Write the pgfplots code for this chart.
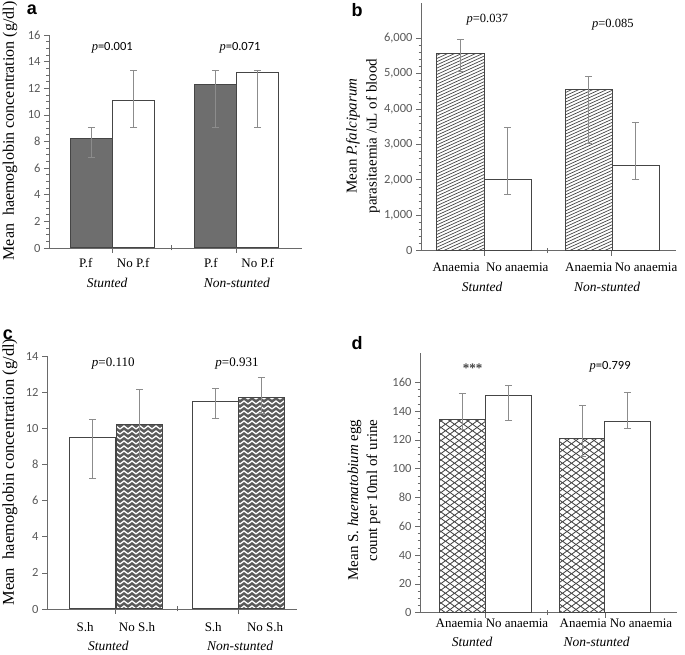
\documentclass[border=0pt]{standalone}
\usepackage{fontspec}
\setmainfont{Liberation Serif}
\newfontfamily\tickfont{Carlito}
\newfontfamily\panfont{Liberation Sans}
\usepackage{pgfplots}
\pgfplotsset{compat=1.18}
\usetikzlibrary{patterns}

\definecolor{barline}{HTML}{454545}
\definecolor{errgray}{HTML}{8C8C8C}
\definecolor{tickgray}{HTML}{595959}
\definecolor{axgray}{HTML}{6A6A6A}
\definecolor{darkfill}{HTML}{6E6E6E}
\definecolor{zzfill}{HTML}{5A5A5A}
\definecolor{hatchgray}{HTML}{474747}

\pgfdeclarepatternformonly{wavydiag}{\pgfqpoint{-1pt}{-1pt}}{\pgfqpoint{8pt}{4.5pt}}{\pgfqpoint{7pt}{3.2pt}}{%
  \pgfsetlinewidth{0.7pt}%
  \pgfpathmoveto{\pgfqpoint{0pt}{0pt}}%
  \pgfpathcurveto{\pgfqpoint{1.4pt}{1.2pt}}{\pgfqpoint{2.1pt}{0.4pt}}{\pgfqpoint{3.5pt}{1.6pt}}%
  \pgfpathcurveto{\pgfqpoint{4.9pt}{2.8pt}}{\pgfqpoint{5.6pt}{2.0pt}}{\pgfqpoint{7pt}{3.2pt}}%
  \pgfusepath{stroke}}
\pgfdeclarepatternformonly{zigzag}{\pgfqpoint{-1pt}{-1pt}}{\pgfqpoint{9pt}{6pt}}{\pgfqpoint{8pt}{5pt}}{%
  \pgfsetlinewidth{1.3pt}%
  \pgfpathmoveto{\pgfqpoint{0pt}{1pt}}%
  \pgfpathlineto{\pgfqpoint{4pt}{4pt}}%
  \pgfpathlineto{\pgfqpoint{8pt}{1pt}}%
  \pgfusepath{stroke}}
\pgfdeclarepatternformonly{diagcross}{\pgfqpoint{-1pt}{-1pt}}{\pgfqpoint{10pt}{7.5pt}}{\pgfqpoint{9pt}{6.5pt}}{%
  \pgfsetlinewidth{0.85pt}%
  \pgfpathmoveto{\pgfqpoint{0pt}{0pt}}\pgfpathlineto{\pgfqpoint{9pt}{6.5pt}}%
  \pgfpathmoveto{\pgfqpoint{0pt}{6.5pt}}\pgfpathlineto{\pgfqpoint{9pt}{0pt}}%
  \pgfusepath{stroke}}

\pgfplotsset{
  panel/.style={
    anchor=south west, scale only axis, clip=false,
    ybar, bar shift=0pt,
    xmin=0, xmax=4, ymin=0, enlargelimits=false,
    axis x line*=bottom, axis y line*=left,
    axis line style={axgray, line width=0.9pt, -},
    tick style={axgray, line width=0.7pt},
    tick align=outside, major tick length=5pt, minor tick length=2.5pt,
    xticklabels={}, extra x tick labels={},
    extra x tick style={tick align=center},
    /pgf/number format/assume math mode=true,
    yticklabel style={font=\tickfont\fontsize{12.5}{12.5}\selectfont, text=tickgray},
    error bars/y dir=both, error bars/y explicit,
    error bars/error bar style={errgray, line width=1pt},
    error bars/error mark options={rotate=90, errgray, mark size=3.5pt, line width=1pt},
  },
}
\tikzset{
  cat/.style={anchor=base, font=\fontsize{13}{13}\selectfont},
  grp/.style={anchor=base, font=\fontsize{13.5}{13.5}\selectfont\itshape},
}

\begin{document}
\begin{tikzpicture}
\useasboundingbox (0,0) rectangle (685pt,655pt);

% ---------------- panel a ----------------
\begin{axis}[panel, at={(49pt,407pt)}, width=253pt, height=213pt,
  ymax=16, ytick={0,2,...,16}, minor y tick num=3,
  bar width=0.67, xtick={1.0,2.96}, extra x ticks={1.94}]
\addplot[fill=darkfill, draw=barline, line width=1pt] coordinates {
  (0.67,8.2) += (0,0.85) -= (0,1.4)
  (2.63,12.3) += (0,1.0) -= (0,3.25)};
\addplot[fill=white, draw=barline, line width=1pt] coordinates {
  (1.34,11.05) += (0,2.25) -= (0,2.0)
  (3.30,13.2) += (0,0.12) -= (0,4.15)};
\node[cat] at (axis cs:0.58,0) [yshift=-19.5pt] {P.f};
\node[cat] at (axis cs:1.33,0) [yshift=-19.5pt] {No P.f};
\node[cat] at (axis cs:2.56,0) [yshift=-19.5pt] {P.f};
\node[cat] at (axis cs:3.30,0) [yshift=-19.5pt] {No P.f};
\node[grp] at (axis cs:0.92,0) [yshift=-39.5pt] {Stunted};
\node[grp] at (axis cs:2.97,0) [yshift=-39.5pt] {Non-stunted};
\node[font=\fontsize{12.5}{12.5}\selectfont] at (axis cs:1.0,15.03) {\textit{p}{\tickfont=0.001}};
\node[font=\fontsize{12.5}{12.5}\selectfont] at (axis cs:3.02,15.03) {\textit{p}{\tickfont=0.071}};
\end{axis}

% ---------------- panel b ----------------
\begin{axis}[panel, at={(421pt,404.3pt)}, width=255pt, height=248pt,
  ymax=7000, ytick={0,1000,...,6000}, minor y tick num=4,
  scaled y ticks=false, yticklabel style={/pgf/number format/1000 sep={,}},
  bar width=0.74, xtick={0.99,2.98}, extra x ticks={1.98}]
\addplot[pattern=wavydiag, pattern color=hatchgray, draw=barline, line width=1pt] coordinates {
  (0.62,5570) += (0,380) -= (0,510)
  (2.63,4560) += (0,370) -= (0,1530)};
\addplot[fill=white, draw=barline, line width=1pt] coordinates {
  (1.36,2020) += (0,1460) -= (0,420)
  (3.37,2410) += (0,1210) -= (0,410)};
\node[cat] at (axis cs:0.55,0) [yshift=-21pt] {Anaemia};
\node[cat] at (axis cs:1.51,0) [yshift=-21pt] {No anaemia};
\node[cat] at (axis cs:2.63,0) [yshift=-21pt] {Anaemia};
\node[cat] at (axis cs:3.53,0) [yshift=-21pt] {No anaemia};
\node[grp] at (axis cs:0.96,0) [yshift=-41pt] {Stunted};
\node[grp] at (axis cs:2.92,0) [yshift=-41pt] {Non-stunted};
\node[font=\fontsize{12.5}{12.5}\selectfont] at (axis cs:1.04,6510) {\textit{p}=0.037};
\node[font=\fontsize{12.5}{12.5}\selectfont] at (axis cs:3.01,6370) {\textit{p}=0.085};
\end{axis}

% ---------------- panel c ----------------
\begin{axis}[panel, at={(47pt,46pt)}, width=250pt, height=253pt,
  ymax=14, ytick={0,2,...,14},
  bar width=0.74, xtick={1.10,3.06}, extra x ticks={2.08}]
\addplot[fill=white, draw=barline, line width=1pt] coordinates {
  (0.73,9.48) += (0,1.02) -= (0,2.24)
  (2.70,11.47) += (0,0.73) -= (0,0.92)};
\addplot[fill=zzfill, postaction={pattern=zigzag, pattern color=white}, draw=barline, line width=1pt] coordinates {
  (1.48,10.22) += (0,1.95) -= (0,1.95)
  (3.43,11.69) += (0,1.11) -= (0,0.86)};
\node[cat] at (axis cs:0.61,0) [yshift=-22.5pt] {S.h};
\node[cat] at (axis cs:1.44,0) [yshift=-22.5pt] {No S.h};
\node[cat] at (axis cs:2.66,0) [yshift=-22.5pt] {S.h};
\node[cat] at (axis cs:3.49,0) [yshift=-22.5pt] {No S.h};
\node[grp] at (axis cs:0.98,0) [yshift=-41.5pt] {Stunted};
\node[grp] at (axis cs:3.09,0) [yshift=-41.5pt] {Non-stunted};
\node[font=\fontsize{13}{13}\selectfont] at (axis cs:1.06,13.6) {\textit{p}=0.110};
\node[font=\fontsize{13}{13}\selectfont] at (axis cs:3.04,13.6) {\textit{p}=0.931};
\end{axis}

% ---------------- panel d ----------------
\begin{axis}[panel, at={(420pt,42.3pt)}, width=257pt, height=259.2pt,
  ymax=180, ytick={0,20,...,160}, minor y tick num=3,
  bar width=0.71, xtick={1.01,2.88}, extra x ticks={1.98}]
\addplot[pattern=diagcross, pattern color=hatchgray, draw=barline, line width=1pt] coordinates {
  (0.66,134.3) += (0,18) -= (0,7.3)
  (2.53,121) += (0,23.2) -= (0,12.7)};
\addplot[fill=white, draw=barline, line width=1pt] coordinates {
  (1.38,150.7) += (0,7.4) -= (0,16.9)
  (3.23,132.6) += (0,20.2) -= (0,4.6)};
\node[cat] at (axis cs:0.61,0) [yshift=-15pt] {Anaemia};
\node[cat] at (axis cs:1.51,0) [yshift=-15pt] {No anaemia};
\node[cat] at (axis cs:2.54,0) [yshift=-15pt] {Anaemia};
\node[cat] at (axis cs:3.44,0) [yshift=-15pt] {No anaemia};
\node[grp] at (axis cs:0.81,0) [yshift=-34pt] {Stunted};
\node[grp] at (axis cs:2.75,0) [yshift=-34pt] {Non-stunted};
\node[font=\fontsize{13}{13}\selectfont\bfseries, text=black!75] at (axis cs:0.82,170) {***};
\node[font=\fontsize{12.5}{12.5}\selectfont] at (axis cs:2.96,171) {\textit{p}{\tickfont=0.799}};
\end{axis}

% ---------------- y labels and panel letters ----------------
\node[rotate=90, font=\fontsize{16}{17}\selectfont] at (10pt,524pt) {Mean\ \ haemoglobin concentration (g/dl)};
\node[rotate=90, font=\fontsize{16.5}{18}\selectfont] at (10pt,183pt) {Mean\ \ haemoglobin concentration (g/dl)};
\node[rotate=90, align=center, font=\fontsize{15}{20}\selectfont] at (363pt,519pt) {Mean \textit{P.falciparum}\\parasitaemia /uL of blood};
\node[rotate=90, align=right, font=\fontsize{15}{19}\selectfont] at (364pt,155pt) {Mean S. \textit{haematobium} egg\\count per 10ml of urine};

\node[font=\panfont\bfseries\fontsize{18}{18}\selectfont] at (32pt,645pt) {a};
\node[font=\panfont\bfseries\fontsize{18}{18}\selectfont] at (357pt,645pt) {b};
\node[font=\panfont\bfseries\fontsize{18}{18}\selectfont] at (8pt,320pt) {c};
\node[font=\panfont\bfseries\fontsize{18}{18}\selectfont] at (357pt,312pt) {d};
\end{tikzpicture}
\end{document}
